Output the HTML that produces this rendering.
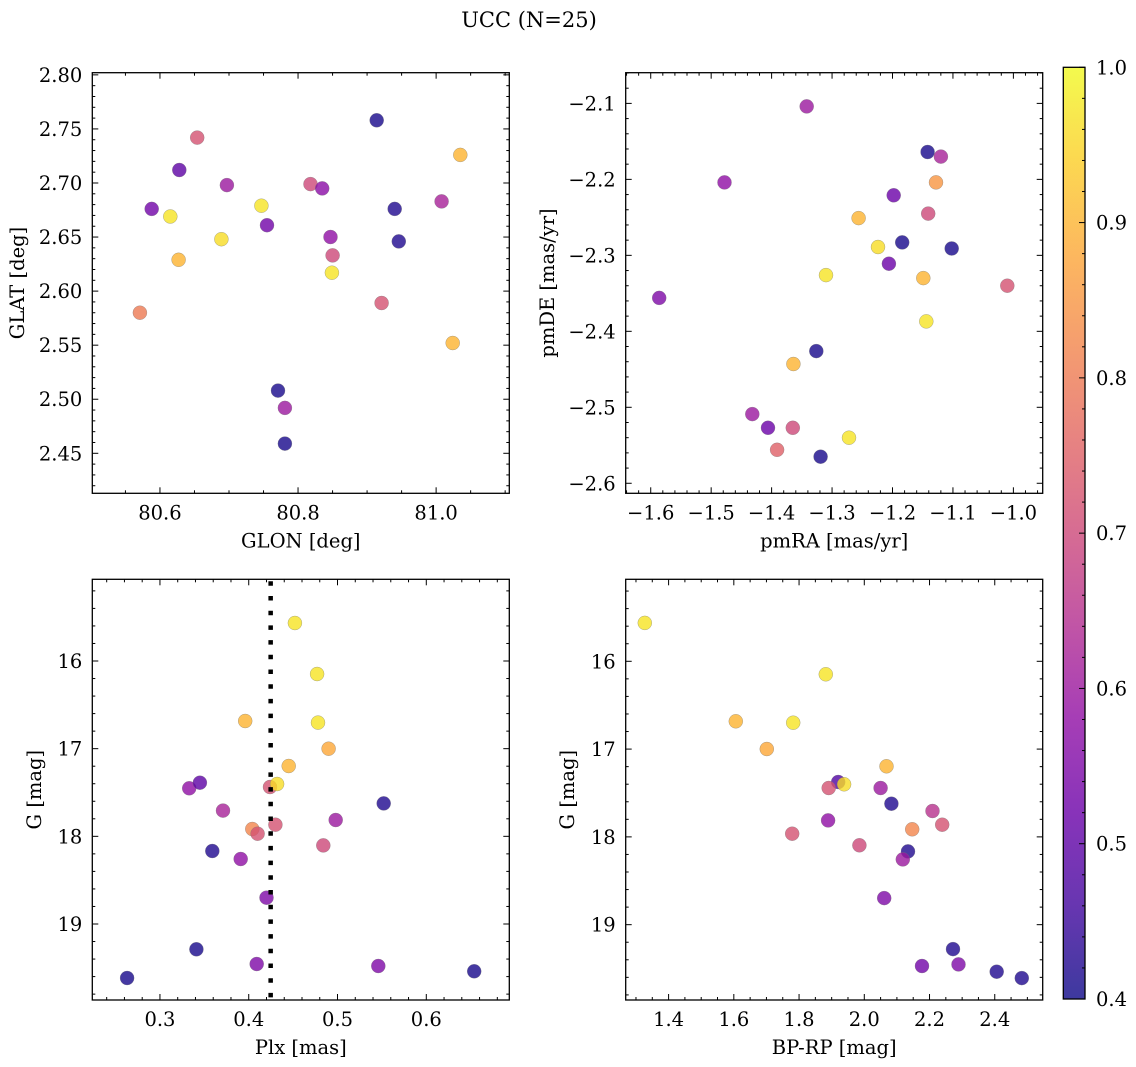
<!DOCTYPE html>
<html><head><meta charset="utf-8"><style>
html,body{margin:0;padding:0;background:#fff}
svg{display:block}
text{font-family:"DejaVu Serif","Liberation Serif",serif;fill:#000}
</style></head><body>
<svg id="fig" width="1136" height="1067" viewBox="0 0 1136 1067" xmlns="http://www.w3.org/2000/svg">
<defs><linearGradient id="plasma" x1="0" y1="1" x2="0" y2="0"></linearGradient></defs>
<text x="529" y="27" text-anchor="middle" font-size="21">UCC (N=25)</text>
</svg>
<script>
// ---- data ----
const glon = [80.654,80.628,80.588,80.615,80.697,80.627,80.571,80.689,80.747,80.755,80.771,80.781,80.781,80.818,80.835,80.847,80.850,80.849,80.914,80.921,80.940,80.946,81.008,81.024,81.035];
const glat = [2.742,2.712,2.676,2.669,2.698,2.629,2.580,2.648,2.679,2.661,2.508,2.492,2.459,2.699,2.695,2.650,2.633,2.617,2.758,2.589,2.676,2.646,2.683,2.552,2.726];
const prob1 = [0.72,0.50,0.53,0.97,0.60,0.90,0.80,0.96,0.97,0.53,0.41,0.60,0.41,0.70,0.57,0.58,0.70,0.97,0.41,0.72,0.42,0.42,0.62,0.90,0.90];

const pmra = [-1.342,-1.478,-1.586,-1.432,-1.406,-1.365,-1.391,-1.364,-1.326,-1.319,-1.310,-1.272,-1.256,-1.224,-1.206,-1.198,-1.184,-1.149,-1.144,-1.141,-1.142,-1.128,-1.120,-1.102,-1.010];
const pmde = [-2.104,-2.204,-2.356,-2.509,-2.527,-2.527,-2.556,-2.443,-2.426,-2.565,-2.326,-2.540,-2.251,-2.289,-2.311,-2.221,-2.283,-2.330,-2.387,-2.245,-2.164,-2.204,-2.170,-2.291,-2.340];
const prob2 = [0.60,0.58,0.55,0.60,0.52,0.70,0.75,0.90,0.41,0.41,0.97,0.97,0.90,0.96,0.52,0.52,0.41,0.90,0.97,0.70,0.41,0.85,0.62,0.41,0.72];

const plx = [0.263,0.333,0.345,0.341,0.359,0.371,0.391,0.396,0.404,0.410,0.409,0.420,0.424,0.432,0.430,0.445,0.452,0.477,0.478,0.490,0.484,0.498,0.546,0.552,0.654];
const gmag3 = [19.616,17.452,17.388,19.289,18.167,17.707,18.259,16.684,17.916,17.970,19.456,18.700,17.437,17.403,17.867,17.198,15.567,16.148,16.703,17.000,18.103,17.814,19.479,17.624,19.540];
const prob3 = [0.41,0.58,0.50,0.41,0.42,0.62,0.58,0.90,0.82,0.72,0.55,0.55,0.72,0.96,0.72,0.90,0.97,0.97,0.97,0.88,0.70,0.60,0.55,0.42,0.41];
const plxRef = 0.4247;

const bprp = [1.327,1.882,1.606,1.782,1.701,2.068,1.920,1.938,1.891,2.050,2.083,2.209,2.239,1.889,2.147,1.779,1.985,2.134,2.118,2.061,2.272,2.177,2.289,2.406,2.483];
const gmag4 = [15.563,16.148,16.684,16.699,16.999,17.196,17.375,17.401,17.443,17.443,17.622,17.705,17.861,17.812,17.914,17.964,18.096,18.165,18.256,18.697,19.278,19.471,19.452,19.536,19.608];
const prob4 = [0.97,0.97,0.90,0.97,0.88,0.90,0.48,0.96,0.72,0.60,0.42,0.65,0.72,0.58,0.82,0.72,0.70,0.42,0.60,0.55,0.42,0.53,0.55,0.42,0.42];

const cbarTicks = [0.4,0.5,0.6,0.7,0.8,0.9,1.0];
const cbarRange = [0.4,1.0];

// ---- helpers ----
const NS = "http://www.w3.org/2000/svg";
const svg = document.getElementById('fig');
const FS = 19.5;
const stops = [[0,'#0d0887'],[0.1,'#41049d'],[0.2,'#6a00a8'],[0.3,'#8f0da4'],[0.4,'#b12a90'],[0.5,'#cc4778'],[0.6,'#e16462'],[0.7,'#f2844b'],[0.8,'#fca636'],[0.9,'#fcce25'],[1,'#f0f921']];
function hx(h){return [1,3,5].map(i=>parseInt(h.substr(i,2),16));}
function plasma(t){
  t=Math.max(0,Math.min(1,t));
  for(let i=0;i<stops.length-1;i++){
    const a=stops[i],b=stops[i+1];
    if(t<=b[0]){const f=(t-a[0])/(b[0]-a[0]);const ca=hx(a[1]),cb=hx(b[1]);
      return 'rgb('+ca.map((v,k)=>Math.round(v+(cb[k]-v)*f)).join(',')+')';}
  }
  return stops[stops.length-1][1];
}
function el(tag,attrs,parent){const e=document.createElementNS(NS,tag);for(const k in attrs)e.setAttribute(k,attrs[k]);(parent||svg).appendChild(e);return e;}
function fmt(v,d){const s=Math.abs(v).toFixed(d);return (v<-1e-9?'\u2212':'')+s;}
function range(lo,hi,step){const out=[];const a=Math.ceil(lo/step-1e-9),b=Math.floor(hi/step+1e-9);for(let k=a;k<=b;k++)out.push(+(k*step).toFixed(6));return out;}

function panel(o){
  const g=el('g',{});
  
  
  const sx=v=>o.x0+(v-o.xd[0])/(o.xd[1]-o.xd[0])*(o.x1-o.x0);
  const sy=v=>o.y0+(v-o.yd[0])/(o.yd[1]-o.yd[0])*(o.y1-o.y0);
  const xlo=Math.min(...o.xd),xhi=Math.max(...o.xd),ylo=Math.min(...o.yd),yhi=Math.max(...o.yd);
  const pg=el('g',{},g);
  
  
  o.xs.forEach((xv,i)=>{
    const c=el('circle',{cx:sx(xv).toFixed(1),cy:sy(o.ys[i]).toFixed(1),r:7,fill:plasma((o.cs[i]-cbarRange[0])/(cbarRange[1]-cbarRange[0])),'fill-opacity':0.8,stroke:'#777','stroke-width':0.5,'stroke-opacity':0.6},pg);
    
    
  });
  if(o.vline!==undefined){
    const l=el('line',{x1:sx(o.vline),x2:sx(o.vline),y1:o.y0+2,y2:o.y1,stroke:'#000','stroke-width':4.5,'stroke-dasharray':'4.5 10.2'},g);
    
    
  }
  const tg=el('g',{stroke:'#000','stroke-width':1},g);
  
  
  const xM=range(xlo,xhi,o.xMaj),xm=range(xlo,xhi,o.xMin).filter(v=>!xM.some(m=>Math.abs(m-v)<1e-6));
  const yM=range(ylo,yhi,o.yMaj),ym=range(ylo,yhi,o.yMin).filter(v=>!yM.some(m=>Math.abs(m-v)<1e-6));
  [[xM,6],[xm,3]].forEach(([arr,len])=>arr.forEach(v=>{const x=sx(v);
    el('line',{x1:x,x2:x,y1:o.y1,y2:o.y1-len},tg);el('line',{x1:x,x2:x,y1:o.y0,y2:o.y0+len},tg);}));
  [[yM,6],[ym,3]].forEach(([arr,len])=>arr.forEach(v=>{const y=sy(v);
    el('line',{x1:o.x0,x2:o.x0+len,y1:y,y2:y},tg);el('line',{x1:o.x1,x2:o.x1-len,y1:y,y2:y},tg);}));
  xM.forEach(v=>{const t=el('text',{x:sx(v),y:o.y1+26,'text-anchor':'middle','font-size':FS},g);t.textContent=fmt(v,o.xDec);
    
    });
  yM.forEach(v=>{const t=el('text',{x:o.x0-10,y:sy(v)+7,'text-anchor':'end','font-size':FS},g);t.textContent=fmt(v,o.yDec);
    
    });
  const f=el('rect',{x:o.x0,y:o.y0,width:o.x1-o.x0,height:o.y1-o.y0,fill:'none',stroke:'#000','stroke-width':1.3},g);
  
  
  const xl=el('text',{x:(o.x0+o.x1)/2,y:o.y1+54,'text-anchor':'middle','font-size':FS},g);xl.textContent=o.xlab;
  
  
  const yc=(o.y0+o.y1)/2;
  const yl=el('text',{x:o.ylx,y:yc,'text-anchor':'middle','font-size':FS,transform:'rotate(-90 '+o.ylx+' '+yc+')'},g);yl.textContent=o.ylab;
  
  
}

panel({name:'glon-glat-panel',x0:92.3,x1:509.3,y0:72.7,y1:493.3,xd:[80.502,81.106],yd:[2.802,2.413],xMaj:0.2,xMin:0.05,yMaj:0.05,yMin:0.01,xDec:1,yDec:2,xs:glon,ys:glat,cs:prob1,xlab:'GLON [deg]',ylab:'GLAT [deg]',ylx:24});
panel({name:'pm-panel',x0:625.7,x1:1042.7,y0:72.7,y1:493.3,xd:[-1.6414,-0.9515],yd:[-2.0596,-2.6132],xMaj:0.1,xMin:0.02,yMaj:0.1,yMin:0.02,xDec:1,yDec:1,xs:pmra,ys:pmde,cs:prob2,xlab:'pmRA [mas/yr]',ylab:'pmDE [mas/yr]',ylx:554});
panel({name:'plx-g-panel',x0:92.3,x1:509.3,y0:579.3,y1:1000,xd:[0.2238,0.6935],yd:[15.068,19.867],xMaj:0.1,xMin:0.02,yMaj:1,yMin:0.2,xDec:1,yDec:0,xs:plx,ys:gmag3,cs:prob3,vline:plxRef,xlab:'Plx [mas]',ylab:'G [mag]',ylx:41});
panel({name:'cmd-panel',x0:625.7,x1:1042.7,y0:579.3,y1:1000,xd:[1.2685,2.547],yd:[15.066,19.858],xMaj:0.2,xMin:0.05,yMaj:1,yMin:0.2,xDec:1,yDec:0,xs:bprp,ys:gmag4,cs:prob4,xlab:'BP-RP [mag]',ylab:'G [mag]',ylx:574});

const grad=document.getElementById('plasma');
for(let i=0;i<=20;i++){const t=i/20;el('stop',{offset:t,'stop-color':plasma(t)},grad);}
const cb={x0:1063.3,x1:1085,y0:67.3,y1:999};
const cg=el('g',{});


el('rect',{x:cb.x0,y:cb.y0,width:cb.x1-cb.x0,height:cb.y1-cb.y0,fill:'url(#plasma)','fill-opacity':0.8},cg);
const cy=v=>cb.y1-(v-cbarRange[0])/(cbarRange[1]-cbarRange[0])*(cb.y1-cb.y0);
range(cbarRange[0],cbarRange[1],0.02).forEach(v=>{const maj=cbarTicks.some(m=>Math.abs(m-v)<1e-6);
  el('line',{x1:cb.x1,x2:cb.x1-(maj?6:3),y1:cy(v),y2:cy(v),stroke:'#000','stroke-width':1},cg);});
cbarTicks.forEach(v=>{const t=el('text',{x:cb.x1+11,y:cy(v)+7,'font-size':FS},cg);t.textContent=v.toFixed(1);
  
  });
el('rect',{x:cb.x0,y:cb.y0,width:cb.x1-cb.x0,height:cb.y1-cb.y0,fill:'none',stroke:'#000','stroke-width':1.3},cg);
</script>
</body></html>
